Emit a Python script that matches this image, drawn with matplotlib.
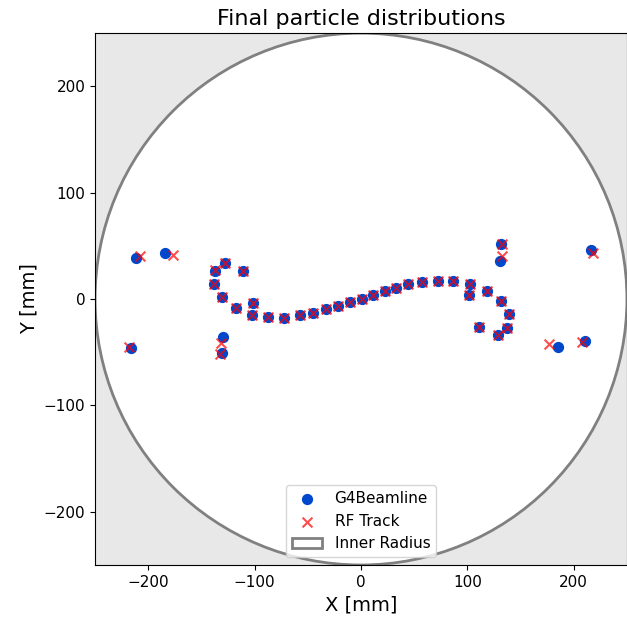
import numpy as np
import matplotlib.pyplot as plt
from matplotlib.patches import Circle

# final positions at the end of the line, mm
g4_x = [-211.5, -184.7, -216.6, -137.7, -127.7, -110.8, -138.3, -130.8, -117.7,
        -101.4, -102.6, -87.0, -72.0, -129.6, -130.8,
        -57.3, -44.8, -32.9, -21.3, -10.3, 0.6, 11.6, 22.2, 32.9, 44.4, 57.6,
        72.0, 86.7, 102.3, 101.7, 118.6, 131.2, 139.0, 137.7, 111.1, 128.4,
        131.2, 130.5, 216.2, 185.3, 211.0]
g4_y = [38.2, 43.5, -46.3, 26.6, 34.1, 26.3, 14.1, 1.6, -8.2,
        -3.5, -14.7, -17.2, -17.8, -36.0, -51.0,
        -15.3, -12.9, -9.7, -6.6, -3.1, 0.0, 3.8, 7.5, 10.3, 13.8, 16.0,
        16.9, 16.9, 14.1, 3.8, 7.8, -1.6, -14.4, -27.5, -26.6, -33.8,
        51.6, 36.0, 46.0, -44.8, -39.1]

rf_x = [-208.2, -176.8, -217.8, -137.1, -127.7, -110.8, -138.3, -130.8, -117.7,
        -101.4, -102.6, -87.0, -72.0, -131.5, -132.7,
        -57.3, -44.8, -32.9, -21.3, -10.3, 0.6, 11.6, 22.2, 32.9, 44.4, 57.6,
        72.0, 86.7, 102.3, 101.7, 118.6, 131.2, 139.0, 137.7, 111.1, 128.4,
        132.1, 132.1, 218.5, 176.5, 208.2]
rf_y = [40.4, 41.6, -44.8, 27.2, 34.1, 26.3, 14.1, 1.6, -8.2,
        -3.5, -14.7, -17.2, -17.8, -41.6, -51.6,
        -15.3, -12.9, -9.7, -6.6, -3.1, 0.0, 3.8, 7.5, 10.3, 13.8, 16.0,
        16.9, 16.9, 14.1, 3.8, 7.8, -1.6, -14.4, -27.5, -26.6, -33.8,
        51.6, 40.4, 43.5, -42.5, -40.7]

inner_radius = 250.0

fig = plt.figure(figsize=(6.27, 6.17), dpi=100)
ax = fig.add_axes([0.1515, 0.0843, 0.8485, 0.862])
ax.set_facecolor('#e8e8e8')

pipe = Circle((0, 0), inner_radius, facecolor='white', edgecolor='gray',
              linewidth=2, label='Inner Radius')
ax.add_patch(pipe)

ax.scatter(g4_x, g4_y, s=50, color='#0047cc', label='G4Beamline', zorder=3)
ax.scatter(rf_x, rf_y, s=50, marker='x', color='red', alpha=0.7,
           label='RF Track', zorder=4)

ax.set_xlim(-250, 250)
ax.set_ylim(-250, 250)
ax.set_aspect('equal')
ax.set_xticks([-200, -100, 0, 100, 200])
ax.set_yticks([-200, -100, 0, 100, 200])
ax.tick_params(labelsize=11)
ax.set_xlabel('X [mm]', fontsize=14)
ax.set_ylabel('Y [mm]', fontsize=14)
ax.set_title('Final particle distributions', fontsize=16)

handles, labels = ax.get_legend_handles_labels()
order = [labels.index('G4Beamline'), labels.index('RF Track'), labels.index('Inner Radius')]
ax.legend([handles[i] for i in order], [labels[i] for i in order],
          loc='lower center', fontsize=11)

fig.savefig('out.png', dpi=100)
